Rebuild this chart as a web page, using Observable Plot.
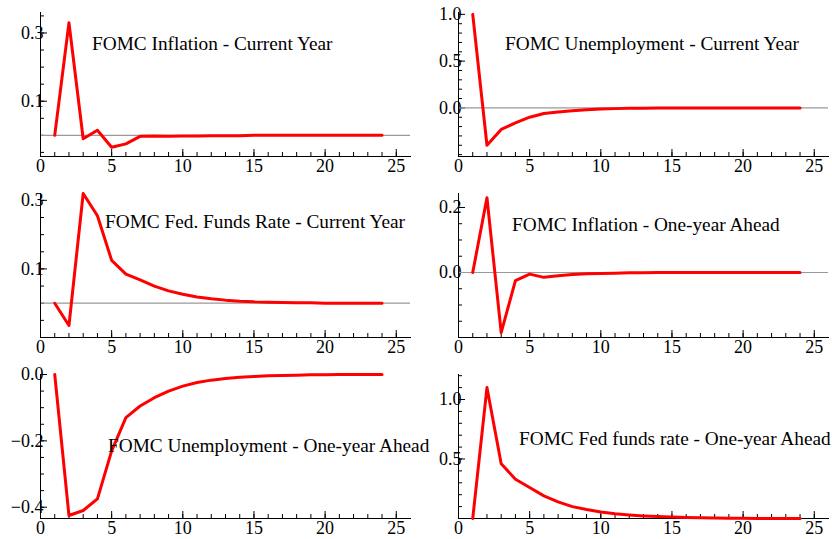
<!DOCTYPE html>
<html><head><meta charset="utf-8">
<script src="https://cdn.jsdelivr.net/npm/d3@7"></script>
<script src="https://cdn.jsdelivr.net/npm/@observablehq/plot@0.6"></script>
<style>
body{margin:0;background:#fff;font-family:"Liberation Serif",serif}
#wrap{position:relative;width:832px;height:539px}
.p{position:absolute}
.p text{font-size:18px;font-family:"Liberation Serif",serif}
.t{position:absolute;font-size:19.3px;white-space:nowrap;transform:translateY(-50%)}
</style></head><body><div id="wrap"></div>
<script>
// horizons 1..24
const steps = d3.range(1, 25);
const inflCur = [0,0.33,-0.01,0.015,-0.035,-0.025,-0.003,-0.002,-0.003,-0.002,-0.002,-0.001,-0.001,-0.001,0,0,0,0,0,0,0,0,0,0];
const unempCur = [1.0,-0.4,-0.23,-0.16,-0.1,-0.06,-0.045,-0.03,-0.02,-0.013,-0.008,-0.005,-0.003,-0.002,-0.001,0,0,0,0,0,0,0,0,0];
const ffCur = [0,-0.065,0.32,0.255,0.125,0.085,0.068,0.05,0.036,0.026,0.018,0.013,0.009,0.006,0.004,0.003,0.002,0.001,0.001,0,0,0,0,0];
const inflAhead = [0,0.23,-0.185,-0.025,-0.005,-0.015,-0.01,-0.006,-0.004,-0.003,-0.002,-0.001,-0.001,0,0,0,0,0,0,0,0,0,0,0];
const unempAhead = [0,-0.425,-0.41,-0.375,-0.23,-0.13,-0.095,-0.07,-0.05,-0.035,-0.024,-0.017,-0.012,-0.008,-0.006,-0.004,-0.003,-0.002,-0.001,-0.001,0,0,0,0];
const ffAhead = [0,1.1,0.46,0.33,0.26,0.19,0.14,0.1,0.075,0.055,0.04,0.03,0.022,0.016,0.012,0.009,0.006,0.005,0.003,0.002,0.001,0.001,0,0];

const f1 = d3.format(".1f");
const panels = [
  {title:"FOMC Inflation - Current Year", vals:inflCur, dom:[-0.062,0.36], ticks:[0.1,0.3], minor:0.05, zero:true, x:0, y:0, tx:92, ty:44},
  {title:"FOMC Unemployment - Current Year", vals:unempCur, dom:[-0.52,1.02], ticks:[0,0.5,1], minor:0.1, zero:true, x:418, y:0, tx:505, ty:44},
  {title:"FOMC Fed. Funds Rate - Current Year", vals:ffCur, dom:[-0.1,0.32], ticks:[0.1,0.3], minor:0.05, zero:true, x:0, y:181, tx:105, ty:222},
  {title:"FOMC Inflation - One-year Ahead", vals:inflAhead, dom:[-0.2,0.243], ticks:[0,0.2], minor:0.05, zero:true, x:418, y:181, tx:512, ty:225},
  {title:"FOMC Unemployment - One-year Ahead", vals:unempAhead, dom:[-0.434,0.0], ticks:[-0.4,-0.2,0], minor:0.05, zero:false, x:0, y:362, tx:108, ty:446},
  {title:"FOMC Fed funds rate - One-year Ahead", vals:ffAhead, dom:[0,1.21], ticks:[0.5,1], minor:0.1, zero:false, x:418, y:362, tx:519, ty:439}
];

const wrap = document.getElementById("wrap");
panels.forEach(p => {
  const data = steps.map((s, i) => ({s, v: p.vals[i]}));
  const minorY = d3.range(Math.ceil(p.dom[0]/p.minor)*p.minor, p.dom[1], p.minor);
  const chart = Plot.plot({
    width: 416, height: 180,
    marginLeft: 40, marginRight: 6, marginTop: 12, marginBottom: 24,
    style: {color: "#000", overflow: "visible"},
    x: {domain: [0, 26]},
    y: {domain: p.dom},
    marks: [
      Plot.axisX({ticks: [0,5,10,15,20,25], tickSize: -7, label: null, tickPadding: 10}),
      Plot.axisX({ticks: d3.range(1, 26), tickSize: -4, tickFormat: () => "", label: null}),
      Plot.axisY({ticks: p.ticks, tickSize: -7, label: null, tickFormat: f1, tickPadding: 4}),
      Plot.axisY({ticks: minorY, tickSize: -4, tickFormat: () => "", label: null}),
      p.zero ? Plot.ruleY([0], {stroke: "#999", strokeWidth: 1.2}) : null,
      Plot.frame({anchor: "left"}),
      Plot.frame({anchor: "bottom"}),
      Plot.line(data, {x: "s", y: "v", stroke: "#f00", strokeWidth: 3})
    ]
  });
  chart.classList.add("p");
  chart.style.left = p.x + "px";
  chart.style.top = p.y + "px";
  wrap.appendChild(chart);
  const t = document.createElement("div");
  t.className = "t";
  t.textContent = p.title;
  t.style.left = p.tx + "px";
  t.style.top = p.ty + "px";
  wrap.appendChild(t);
});
</script></body></html>
